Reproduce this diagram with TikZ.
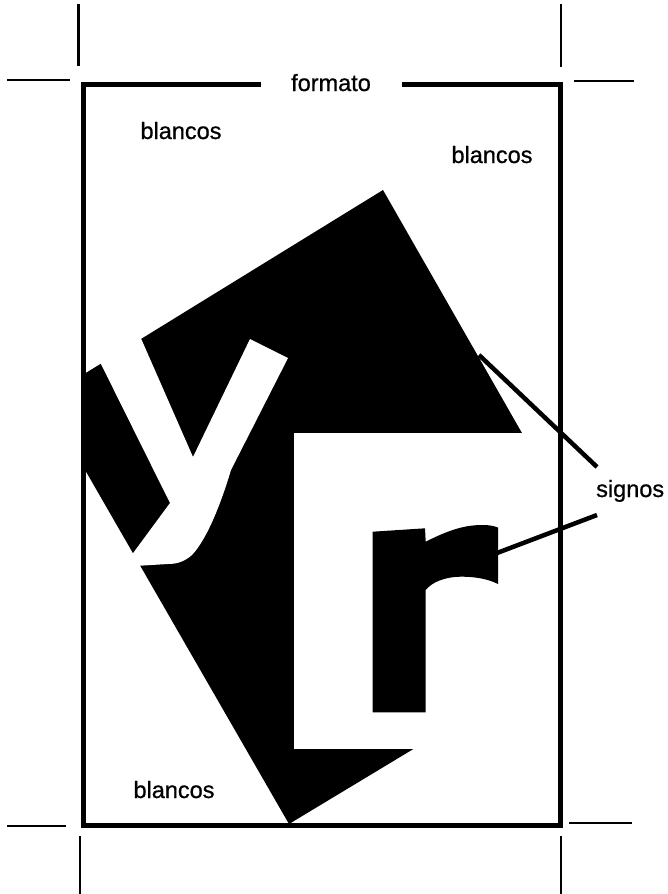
\documentclass[tikz,border=0pt]{standalone}
\usepackage{fontspec}
\setmainfont{Liberation Sans}
\newfontface\lblface{Liberation Sans}[FakeBold=0.8]
\begin{document}
\begin{tikzpicture}[x=1pt,y=-1pt,
  lbl/.style={inner sep=0pt,font=\lblface\fontsize{23.5}{28}\selectfont},
  framestroke/.style={line width=5pt,line join=miter},
  cropmark/.style={line width=2.4pt},
  pointer/.style={line width=4.5pt}]
\useasboundingbox (0,0) rectangle (668,894);
% corners
\coordinate (A) at (383,190);
\coordinate (B) at (44,398.7);
\coordinate (C) at (289,824);
\coordinate (D) at (628.5,619.3);
\begin{scope}
  \clip (83.7,84.5) rectangle (560,825);
  % large black tilted rectangle
  \fill[black] (A) -- (B) -- (C) -- (D) -- cycle;
  % white y
  \fill[white] (95,352) -- (136,327) -- (193,457) -- (250,339) -- (288,358)
    -- (231,470) .. controls (222,500) and (208,538) .. (192,555)
    .. controls (185,561) and (178,564) .. (168,564)
    -- (135,566) -- (128,560) -- (170,503) -- cycle;
  % white box around r
  \fill[white] (294,433) rectangle (620,749);
  % black r
  \fill[black] (372.7,531.7) -- (425,528.3) -- (425.7,541.7)
    .. controls (445,532) and (462,525) .. (482,525)
    .. controls (490,525) and (494,526) .. (498,527.5)
    -- (498,584)
    .. controls (488,579) and (475,576.5) .. (460,576.7)
    .. controls (445,577) and (432,582) .. (425.7,590)
    -- (425.7,712.3) -- (372.7,712.3) -- cycle;
\end{scope}
% frame
\draw[framestroke] (260.6,84.5) -- (83.7,84.5) -- (83.7,825) -- (560,825) -- (560,84.5) -- (401.5,84.5);
% crop marks
\draw[cropmark] (78.3,4) -- (78.3,66);
\draw[cropmark] (561,4) -- (561,67);
\draw[cropmark] (7,80) -- (70,80);
\draw[cropmark] (574,81) -- (634,81);
\draw[cropmark] (7,826) -- (66,826);
\draw[cropmark] (569,823) -- (632,823);
\draw[cropmark] (80,836) -- (80,894);
\draw[cropmark] (561,836) -- (561,894);
% labels
\node[lbl,anchor=base] (formato) at (331,91) {formato};
\node[lbl,anchor=base] (blancosA) at (181,139) {blancos};
\node[lbl,anchor=base] (blancosB) at (492,163) {blancos};
\node[lbl,anchor=base] (blancosC) at (174,798) {blancos};
\node[lbl,anchor=base west] (signos) at (596,497) {signos};
% pointers
\coordinate (p1s) at (479,355);
\coordinate (p1e) at (597,467);
\coordinate (p2s) at (497,553);
\coordinate (p2e) at (597,515);
\draw[pointer] (p1s) -- (p1e);
\draw[pointer] (p2s) -- (p2e);
\end{tikzpicture}
\end{document}
